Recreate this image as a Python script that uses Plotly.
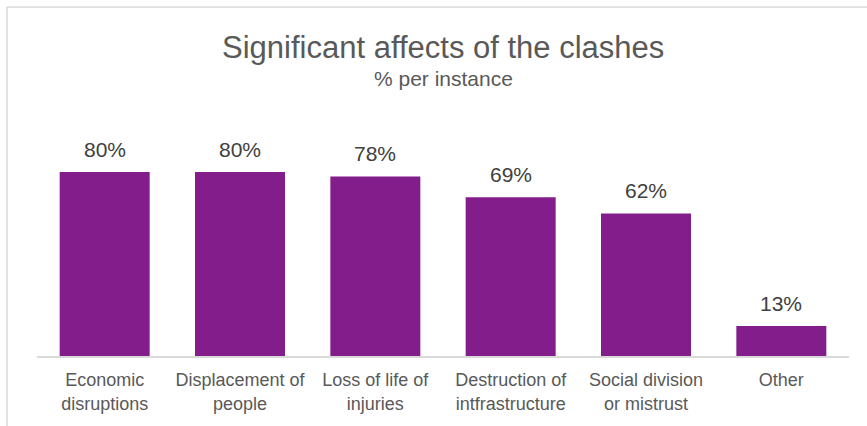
import plotly.graph_objects as go

categories = ["Economic<br>disruptions", "Displacement of<br>people", "Loss of life of<br>injuries",
              "Destruction of<br>intfrastructure", "Social division<br>or mistrust", "Other"]
values = [80, 80, 78, 69, 62, 13]
labels = ["80%", "80%", "78%", "69%", "62%", "13%"]

W, H = 867, 426
ml, mr, mt, mb = 37, 18, 126, 70
pw = W - ml - mr
ph = H - mt - mb
FONT = "Liberation Sans, Arial"

fig = go.Figure()
fig.add_trace(go.Bar(x=categories, y=values, marker=dict(color="#831D8C", line=dict(width=0)),
                     hoverinfo="skip"))

for c, v, t in zip(categories, values, labels):
    fig.add_annotation(x=c, y=v, text=t, showarrow=False, yanchor="middle", yshift=23,
                       font=dict(family=FONT, size=21, color="#404040"))

fig.add_annotation(xref="paper", yref="paper", x=0.5, y=(H - 47 - mb) / ph, text="Significant affects of the clashes",
                   showarrow=False, yanchor="middle",
                   font=dict(family=FONT, size=31, color="#595959"))
fig.add_annotation(xref="paper", yref="paper", x=0.5, y=(H - 78 - mb) / ph, text="% per instance",
                   showarrow=False, yanchor="middle",
                   font=dict(family=FONT, size=21, color="#595959"))

# chart border (top and left visible)
bx = (7 - ml) / pw
by = (H - 7 - mb) / ph
fig.add_shape(type="line", xref="paper", yref="paper", x0=bx, x1=1.5, y0=by, y1=by,
              line=dict(color="#D9D9D9", width=1.5))
fig.add_shape(type="line", xref="paper", yref="paper", x0=bx, x1=bx, y0=by, y1=-1,
              line=dict(color="#D9D9D9", width=1.5))

fig.update_layout(
    width=W, height=H,
    margin=dict(l=ml, r=mr, t=mt, b=mb),
    paper_bgcolor="white", plot_bgcolor="white",
    bargap=0.335,
    showlegend=False,
    xaxis=dict(showline=True, linecolor="#D9D9D9", linewidth=1.5, ticks="", showgrid=False,
               tickfont=dict(family=FONT, size=18, color="#595959"),
               ticklabelstandoff=7, fixedrange=True),
    yaxis=dict(range=[0, 100], visible=False, showgrid=False, zeroline=False, fixedrange=True),
)

fig.write_html("out.html", config={"displayModeBar": False},
               post_script="document.body.style.margin='0';")
